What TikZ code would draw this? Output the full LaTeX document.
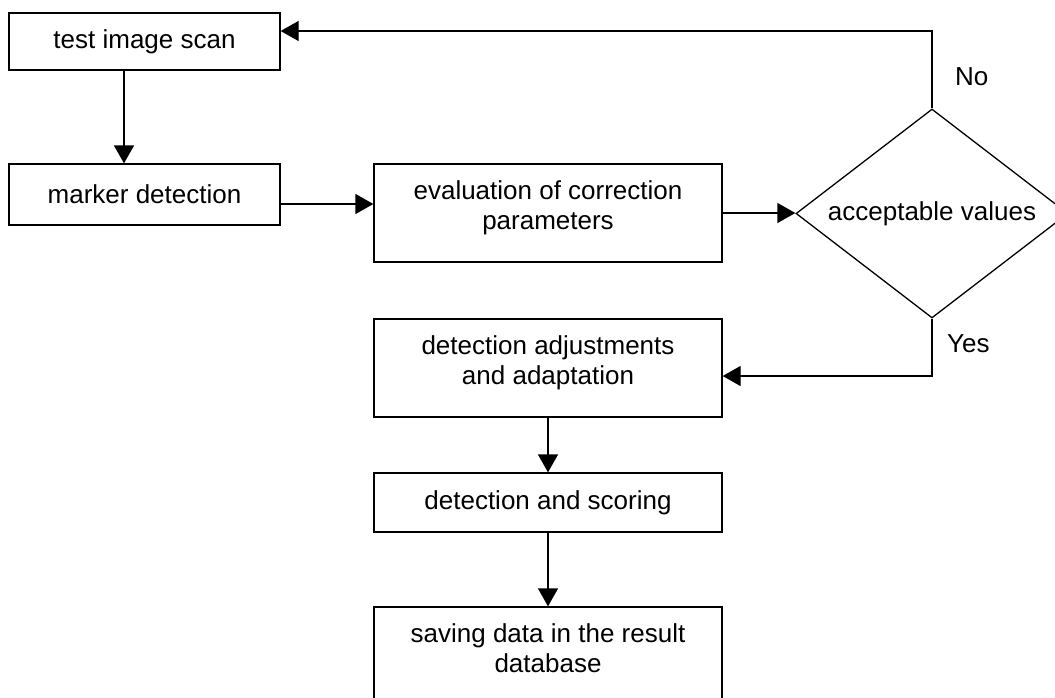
\documentclass[tikz,border=0pt]{standalone}
\usepackage{fontspec}
\setmainfont{Liberation Sans}
\usetikzlibrary{shapes.geometric,arrows.meta}
\begin{document}
\begin{tikzpicture}[x=1pt,y=-1pt,
  box/.style={draw,line width=1.3pt,inner sep=0pt,font=\fontsize{26}{29.5}\selectfont,align=center},
  txt/.style={inner sep=0pt,font=\fontsize{26}{29.5}\selectfont,align=center},
  decision/.style={draw,line width=1.3pt,shape=diamond,inner sep=0pt,aspect=1.3,font=\fontsize{26}{29.5}\selectfont},
  arr/.style={line width=1.3pt,-{Triangle[length=18pt,width=20pt]}},
  ln/.style={line width=1.3pt}
]
\useasboundingbox (0,0) rectangle (1055,697);
\clip (0,0) rectangle (1055,697);
% boxes
\node[box,minimum width=271pt,minimum height=57pt] (b1) at (144.5,41.5) {test image scan};
\node[box,minimum width=271pt,minimum height=61pt] (b2) at (144.5,194.5) {marker detection};
\node[box,minimum width=348pt,minimum height=98pt] (b3) at (548,213) {};
\node[txt] (t3) at (548,208) {evaluation of correction\\parameters};
\node[decision,minimum width=272pt,minimum height=209pt] (d) at (932,213.5) {acceptable values};
\node[box,minimum width=348pt,minimum height=98pt] (b5) at (548,368) {};
\node[txt] (t5) at (548,363) {detection adjustments\\and adaptation};
\node[box,minimum width=348pt,minimum height=59pt] (b6) at (548,502.5) {detection and scoring};
\node[box,minimum width=348pt,minimum height=133pt] (b7) at (548,673.5) {};
\node[txt] (t7) at (548,648) {saving data in the result\\database};
% labels
\node[txt,anchor=base west] (no) at (955,85) {No};
\node[txt,anchor=base west] (yes) at (947,352) {Yes};
% connectors
\draw[arr] ([xshift=-20.5pt]b1.south) -- ([xshift=-20.5pt]b2.north);
\coordinate (c23) at ([yshift=-9.5pt]b2.east);
\draw[arr] (c23) -- (c23 -| b3.west);
\draw[arr] (b3.east) -- (b3.east -| d.west);
\coordinate (c1) at ([yshift=10.5pt]b1.east);
\draw[arr] (d.north) |- (c1);
\coordinate (c5) at ([yshift=-8pt]b5.east);
\draw[arr] (d.south) |- (c5);
\draw[arr] (b5.south) -- (b6.north);
\draw[arr] (b6.south) -- (b7.north);
\end{tikzpicture}
\end{document}
